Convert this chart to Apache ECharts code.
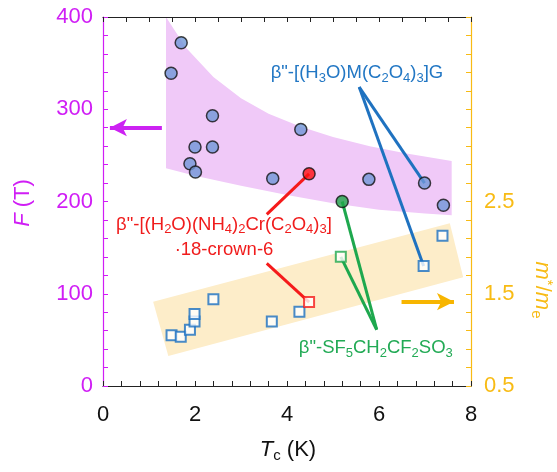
<!DOCTYPE html>
<html><head><meta charset="utf-8">
<script src="https://cdn.jsdelivr.net/npm/echarts@6/dist/echarts.min.js"></script>
<style>html,body{margin:0;padding:0;background:#fff}#c{width:557px;height:472px}</style>
</head><body><div id="c"></div><script>
const FONT = 'Liberation Sans, Arial, Helvetica, sans-serif';
const MAGENTA = '#d01ef5', GOLD = '#f8bb14', BLUE = '#1f72c0', RED = '#f51a1a', GREEN = '#1ea84e';

// axes
const xMin = 0, xMax = 8, xStep = 2;
const fMin = 0, fMax = 400, fStep = 100;
const mMin = 0.5, mMax = 4.5;
const mTicks = [0.5,0.7,0.9,1.1,1.3,1.5,1.7,1.9,2.1,2.3,2.5,2.7,2.9,3.1,3.3,3.5,3.7,3.9,4.1,4.3,4.5];
const mLabels = [0.5, 1.5, 2.5];

// F (T) data: circles
const circleT = [1.48, 1.70, 1.89, 2.00, 2.01, 2.38, 2.38, 3.69, 4.30, 5.78, 6.99, 7.40];
const circleF = [339, 372, 241, 259, 232, 293, 259, 225, 278, 224, 220, 196];
const redCircleT = [4.48], redCircleF = [230];
const greenCircleT = [5.20], greenCircleF = [200];

// m*/me data: squares
const squareT = [1.49, 1.69, 1.89, 1.99, 1.99, 2.40, 3.67, 4.27, 6.97, 7.38];
const squareM = [1.05, 1.035, 1.11, 1.20, 1.28, 1.44, 1.20, 1.305, 1.80, 2.13];
const redSquareT = [4.48], redSquareM = [1.41];
const greenSquareT = [5.17], greenSquareM = [1.90];

// shaded bands
const pinkTopT = [1.37, 1.8, 2.4, 3.0, 3.6, 4.3, 5.0, 5.8, 6.6, 7.58];
const pinkTopF = [400, 367, 335, 312, 295, 281, 270, 260, 252, 244];
const pinkBotT = [1.37, 2.0, 3.0, 4.0, 5.0, 6.0, 7.0, 7.58];
const pinkBotF = [236, 228, 217, 207, 198, 191, 187, 185];
const yellowT = [1.09, 7.54, 7.83, 1.42];
const yellowM = [1.414, 2.263, 1.678, 0.825];

// annotation anchors (T, F)
const blueAnchor = [5.57, 324];
const redAnchor1 = [3.56, 186];
const redAnchor2 = [3.56, 133];
const greenAnchor = [5.95, 61];
const blueLabelPos = [5.52, 339];
const redLabelPos1 = [2.63, 175];
const redLabelPos2 = [2.63, 148];
const greenLabelPos = [5.93, 41];
// arrows (T, value) : tail, tip
const magentaArrowT = [1.28, 0.15], magentaArrowF = [280, 280];
const goldArrowT = [6.49, 7.63], goldArrowM = [1.414, 1.414];

const f2m = f => mMin + (f - fMin) * (mMax - mMin) / (fMax - fMin);
const zip = (a, b) => a.map((v, i) => [v, b[i]]);

function polySeries(pts, yIdx, color) {
  return {
    type: 'custom', xAxisIndex: 0, yAxisIndex: yIdx, silent: true, z: 1, animation: false,
    data: [pts[0]],
    renderItem: (params, api) => ({
      type: 'polygon',
      shape: { points: pts.map(p => api.coord(p)) },
      style: { fill: color }
    })
  };
}
function seg(p1, p2, yIdx, color, w) {
  return { type: 'line', xAxisIndex: 0, yAxisIndex: yIdx, data: [p1, p2], symbol: 'none', silent: true, z: 3,
    animation: false, lineStyle: { color: color, width: w } };
}
function arrow(t, v, yIdx, color) {
  return { type: 'line', xAxisIndex: 0, yAxisIndex: yIdx, data: [], silent: true, z: 3, animation: false,
    markLine: { silent: true, animation: false, symbol: ['none', 'arrow'], symbolSize: [13, 17],
      label: { show: false }, emphasis: { disabled: true },
      lineStyle: { color: color, width: 4, type: 'solid' },
      data: [[{ coord: [t[0], v[0]] }, { coord: [t[1], v[1]] }]] } };
}
const pinkPts = zip(pinkTopT, pinkTopF).concat(zip(pinkBotT, pinkBotF).reverse());
const yellowPts = zip(yellowT, yellowM);

function ticks(color) { return { show: true, inside: true, length: 5, lineStyle: { color: color, width: 1 } }; }
function minor(color) { return { show: true, splitNumber: 5, length: 5, lineStyle: { color: color, width: 1 } }; }
const option = {
  animation: false,
  grid: { left: 103, right: 86, top: 17, bottom: 86 },
  xAxis: [
    { type: 'value', position: 'bottom', min: xMin, max: xMax, interval: xStep, z: 4,
      axisLine: { show: true, onZero: false, lineStyle: { color: '#222', width: 1.2 } },
      axisTick: ticks('#222'), minorTick: minor('#222'),
      splitLine: { show: false }, minorSplitLine: { show: false },
      axisLabel: { fontSize: 22, color: '#111', margin: 18, fontFamily: FONT } },
    { type: 'value', position: 'top', min: xMin, max: xMax, interval: 0.5, z: 4,
      axisLine: { show: true, onZero: false, lineStyle: { color: '#222', width: 1.2 } },
      axisTick: ticks('#222'),
      splitLine: { show: false }, axisLabel: { show: false } }
  ],
  yAxis: [
    { type: 'value', position: 'left', min: fMin, max: fMax, interval: fStep, z: 4,
      axisLine: { show: true, onZero: false, lineStyle: { color: MAGENTA, width: 1.2 } },
      axisTick: ticks(MAGENTA), minorTick: minor(MAGENTA),
      splitLine: { show: false }, minorSplitLine: { show: false },
      axisLabel: { fontSize: 22, color: MAGENTA, margin: 10, fontFamily: FONT } },
    { type: 'value', position: 'right', min: mMin, max: mMax, z: 4,
      axisLine: { show: true, onZero: false, lineStyle: { color: GOLD, width: 1.2 } },
      axisTick: Object.assign(ticks(GOLD), { customValues: mTicks }),
      splitLine: { show: false },
      axisLabel: { fontSize: 22, color: GOLD, margin: 13, fontFamily: FONT, customValues: mLabels,
        formatter: v => v.toFixed(1) } }
  ],
  series: [
    polySeries(pinkPts, 0, '#f0c9f8'),
    polySeries(yellowPts, 1, '#fdedc9'),
    seg(blueAnchor, [circleT[10], circleF[10]], 0, BLUE, 3),
    seg([blueAnchor[0], f2m(blueAnchor[1])], [squareT[8], squareM[8]], 1, BLUE, 3),
    seg(redAnchor1, [redCircleT[0], redCircleF[0]], 0, RED, 3),
    seg([redAnchor2[0], f2m(redAnchor2[1])], [redSquareT[0], redSquareM[0]], 1, RED, 3),
    seg(greenAnchor, [greenCircleT[0], greenCircleF[0]], 0, GREEN, 3),
    seg([greenAnchor[0], f2m(greenAnchor[1])], [greenSquareT[0], greenSquareM[0]], 1, GREEN, 3),
    arrow(magentaArrowT, magentaArrowF, 0, '#cc22f2'),
    arrow(goldArrowT, goldArrowM, 1, '#f7b500'),
    { type: 'scatter', yAxisIndex: 1, data: zip(squareT, squareM), symbol: 'rect', symbolSize: 10, z: 5, silent: true,
      itemStyle: { color: '#fff', borderColor: '#1a6fc0', borderWidth: 2 } },
    { type: 'scatter', yAxisIndex: 1, data: zip(redSquareT, redSquareM), symbol: 'rect', symbolSize: 10, z: 5, silent: true,
      itemStyle: { color: '#fff', borderColor: RED, borderWidth: 2 } },
    { type: 'scatter', yAxisIndex: 1, data: zip(greenSquareT, greenSquareM), symbol: 'rect', symbolSize: 10, z: 5, silent: true,
      itemStyle: { color: '#fff', borderColor: GREEN, borderWidth: 2 } },
    { type: 'scatter', yAxisIndex: 0, data: zip(circleT, circleF), symbolSize: 12, z: 5, silent: true,
      itemStyle: { color: '#7097d7', borderColor: '#111', borderWidth: 1.5 } },
    { type: 'scatter', yAxisIndex: 0, data: zip(redCircleT, redCircleF), symbolSize: 12, z: 5, silent: true,
      itemStyle: { color: '#ff1010', borderColor: '#111', borderWidth: 1.5 } },
    { type: 'scatter', yAxisIndex: 0, data: zip(greenCircleT, greenCircleF), symbolSize: 12, z: 5, silent: true,
      itemStyle: { color: '#1fa648', borderColor: '#111', borderWidth: 1.5 } }
  ]
};
const chart = echarts.init(document.getElementById('c'), null, { renderer: 'canvas' });
chart.setOption(option);

function richStyles(color, size) {
  return {
    n: { fill: color, fontSize: size, fontFamily: FONT, lineHeight: size + 4, verticalAlign: 'middle' },
    i: { fill: color, fontSize: size, fontFamily: FONT, fontStyle: 'italic', lineHeight: size + 4, verticalAlign: 'middle' },
    s: { fill: color, fontSize: Math.round(size * 0.68), fontFamily: FONT, lineHeight: Math.round(size * 0.68), verticalAlign: 'bottom' },
    p: { fill: color, fontSize: Math.round(size * 0.68), fontFamily: FONT, lineHeight: Math.round(size * 0.68), verticalAlign: 'top' }
  };
}
function txt(pos, text, color, size, rot) {
  return { type: 'text', x: pos[0], y: pos[1], rotation: rot || 0, z: 10, silent: true,
    style: { text: text, rich: richStyles(color, size), align: 'center', verticalAlign: 'middle',
      textAlign: 'center', textVerticalAlign: 'middle' } };
}
const P = (p, yi) => chart.convertToPixel({ xAxisIndex: 0, yAxisIndex: yi || 0 }, p);
chart.setOption({ graphic: [
  txt(P(blueLabelPos), '{n|β"-[(H}{s|3}{n|O)M(C}{s|2}{n|O}{s|4}{n|)}{s|3}{n|]G}', '#2277c4', 18.5),
  txt(P(redLabelPos1), '{n|β"-[(H}{s|2}{n|O)(NH}{s|4}{n|)}{s|2}{n|Cr(C}{s|2}{n|O}{s|4}{n|)}{s|3}{n|]}', '#f01c1c', 18.5),
  txt(P(redLabelPos2), '{n|·18-crown-6}', '#f01c1c', 18.5),
  txt(P(greenLabelPos), '{n|β"-SF}{s|5}{n|CH}{s|2}{n|CF}{s|2}{n|SO}{s|3}', '#22aa55', 18.5),
  txt([23, 203], '{i|F}{n| (T)}', MAGENTA, 22, Math.PI / 2),
  txt([542, 290], '{i|m}{p|*}{n|/}{i|m}{s|e}', GOLD, 22, -Math.PI / 2),
  txt([288, 450], '{i|T}{s|c}{n| (K)}', '#111', 22)
] });
</script></body></html>
